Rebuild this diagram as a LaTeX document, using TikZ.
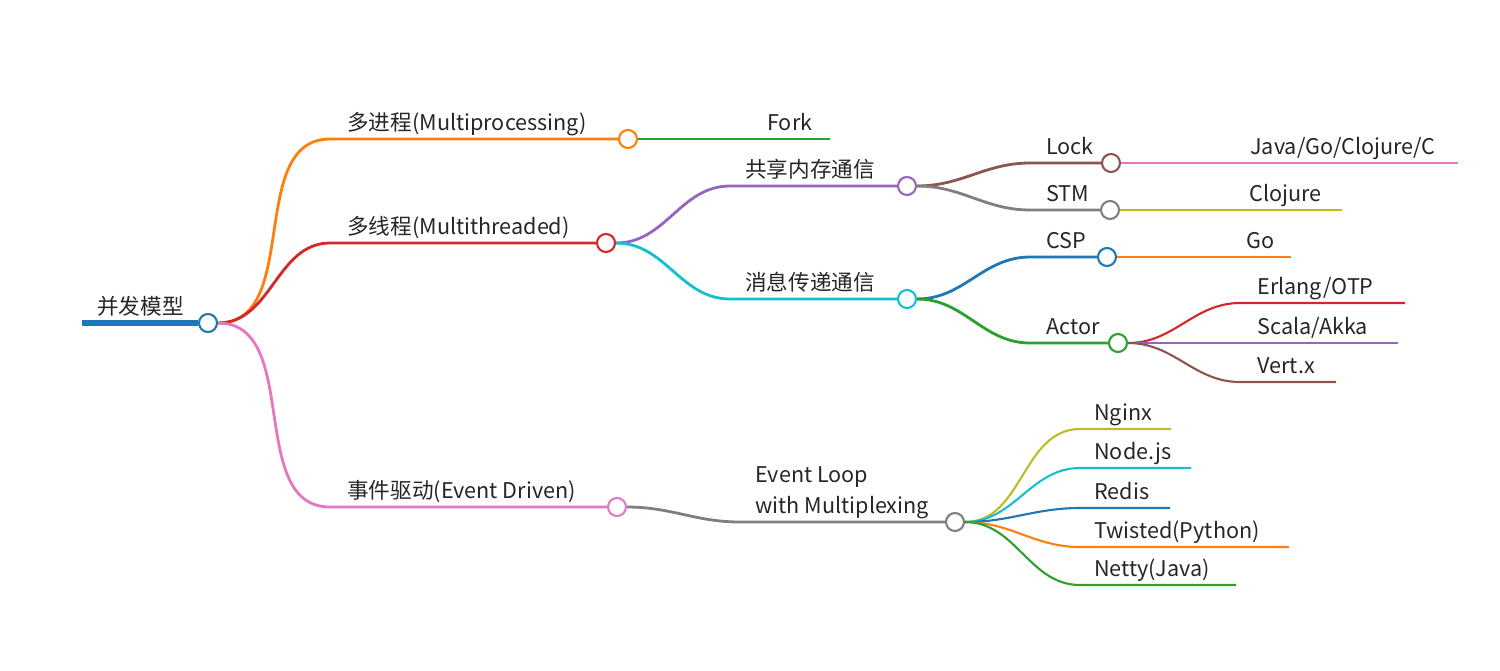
\documentclass[tikz,border=0pt]{standalone}
\usepackage{fontspec}
\setmainfont{Noto Sans CJK SC}
\usetikzlibrary{positioning}
\definecolor{tblue}{HTML}{1F77B4}
\definecolor{torange}{HTML}{FF7F0E}
\definecolor{tgreen}{HTML}{2CA02C}
\definecolor{tred}{HTML}{D62728}
\definecolor{tpurple}{HTML}{9467BD}
\definecolor{tbrown}{HTML}{8C564B}
\definecolor{tpink}{HTML}{E377C2}
\definecolor{tgray}{HTML}{7F7F7F}
\definecolor{tolive}{HTML}{BCBD22}
\definecolor{tcyan}{HTML}{17BECF}
\tikzset{
    hub/.style={circle, draw=#1, fill=white, line width=1.2pt, minimum size=0.36cm, inner sep=0pt},
    txt/.style={anchor=base west, inner sep=0pt, text=black!85, font=\fontsize{12.3}{17.5}\selectfont},
    trunk/.style={draw=#1, line width=3.4pt},
    branch/.style={draw=#1, line width=1.6pt},
    leaf/.style={draw=#1, line width=1.2pt},
    sbend/.style={out=0, in=180},
}
\begin{document}
\begin{tikzpicture}[x=0.02cm, y=-0.02cm]
    \useasboundingbox (0,0) rectangle (1500,670);

    % root
    \coordinate (rootstart) at (82,323);
    \node[hub=tblue] (root) at (208,323) {};
    \node[txt] (rootlbl) at (97,314) {并发模型};
    \draw[trunk=tblue] (rootstart) -- (root);

    % first level
    \coordinate (mpk) at (330,139);
    \coordinate (mtk) at (330,243);
    \coordinate (evk) at (330,507);
    \node[hub=torange] (mp) at (628,139) {};
    \node[hub=tred] (mt) at (606,243) {};
    \node[hub=tpink] (ev) at (617,507) {};
    \node[txt] (mplbl) at (347,130) {多进程(Multiprocessing)};
    \node[txt] (mtlbl) at (347,234) {多线程(Multithreaded)};
    \node[txt] (evlbl) at (347,498) {事件驱动(Event Driven)};
    \draw[branch=torange] (root) to[sbend] (mpk) -- (mp);
    \draw[branch=tred] (root) to[sbend] (mtk) -- (mt);
    \draw[branch=tpink] (root) to[sbend] (evk) -- (ev);

    % multiprocessing
    \coordinate (forkend) at (830,139);
    \node[txt] (forklbl) at (767,130) {Fork};
    \draw[leaf=tgreen] (mp) -- (forkend);

    % multithreaded
    \coordinate (shmk) at (730,186);
    \coordinate (msgk) at (730,299);
    \node[hub=tpurple] (shm) at (907,186) {};
    \node[hub=tcyan] (msg) at (907,299) {};
    \node[txt] (shmlbl) at (745,177) {共享内存通信};
    \node[txt] (msglbl) at (745,290) {消息传递通信};
    \draw[branch=tpurple] (mt) to[sbend] (shmk) -- (shm);
    \draw[branch=tcyan] (mt) to[sbend] (msgk) -- (msg);

    \coordinate (lockk) at (1030,163);
    \coordinate (stmk) at (1030,210);
    \coordinate (cspk) at (1030,257);
    \coordinate (actork) at (1030,343);
    \node[hub=tbrown] (lock) at (1111,163) {};
    \node[hub=tgray] (stm) at (1110,210) {};
    \node[hub=tblue] (csp) at (1107,257) {};
    \node[hub=tgreen] (actor) at (1118,343) {};
    \node[txt] (locklbl) at (1046,154) {Lock};
    \node[txt] (stmlbl) at (1046,201) {STM};
    \node[txt] (csplbl) at (1046,248) {CSP};
    \node[txt] (actorlbl) at (1046,334) {Actor};
    \draw[branch=tbrown] (shm) to[sbend] (lockk) -- (lock);
    \draw[branch=tgray] (shm) to[sbend] (stmk) -- (stm);
    \draw[branch=tblue] (msg) to[sbend] (cspk) -- (csp);
    \draw[branch=tgreen] (msg) to[sbend] (actork) -- (actor);

    \coordinate (javaend) at (1458,163);
    \coordinate (clojend) at (1342,210);
    \coordinate (goend) at (1291,257);
    \node[txt] (javalbl) at (1250,154) {Java/Go/Clojure/C};
    \node[txt] (clojlbl) at (1249,201) {Clojure};
    \node[txt] (golbl) at (1246,248) {Go};
    \draw[leaf=tpink] (lock) -- (javaend);
    \draw[leaf=tolive] (stm) -- (clojend);
    \draw[leaf=torange] (csp) -- (goend);

    \coordinate (erlk) at (1240,303);
    \coordinate (erlend) at (1405,303);
    \coordinate (scalaend) at (1398,343);
    \coordinate (vertk) at (1240,382);
    \coordinate (vertend) at (1336,382);
    \node[txt] (erllbl) at (1257,294) {Erlang/OTP};
    \node[txt] (scalalbl) at (1257,334) {Scala/Akka};
    \node[txt] (vertlbl) at (1257,373) {Vert.x};
    \draw[leaf=tred] (actor) to[sbend] (erlk) -- (erlend);
    \draw[leaf=tpurple] (actor) -- (scalaend);
    \draw[leaf=tbrown] (actor) to[sbend] (vertk) -- (vertend);

    % event driven
    \coordinate (loopk) at (740,522);
    \node[hub=tgray] (loop) at (955,522) {};
    \node[txt, align=left] (looplbl) at (755,513) {Event Loop\\with Multiplexing};
    \draw[branch=tgray] (ev) to[sbend] (loopk) -- (loop);

    \coordinate (nginxk) at (1080,429);
    \coordinate (nodek) at (1080,468);
    \coordinate (redisk) at (1080,508);
    \coordinate (twistk) at (1080,547);
    \coordinate (nettyk) at (1080,585);
    \coordinate (nginxend) at (1171,429);
    \coordinate (nodeend) at (1191,468);
    \coordinate (redisend) at (1170,508);
    \coordinate (twistend) at (1289,547);
    \coordinate (nettyend) at (1236,585);
    \node[txt] (nginxlbl) at (1094,420) {Nginx};
    \node[txt] (nodelbl) at (1094,459) {Node.js};
    \node[txt] (redislbl) at (1094,499) {Redis};
    \node[txt] (twistlbl) at (1094,538) {Twisted(Python)};
    \node[txt] (nettylbl) at (1094,576) {Netty(Java)};
    \draw[leaf=tolive] (loop) to[sbend] (nginxk) -- (nginxend);
    \draw[leaf=tcyan] (loop) to[sbend] (nodek) -- (nodeend);
    \draw[leaf=tblue] (loop) to[sbend] (redisk) -- (redisend);
    \draw[leaf=torange] (loop) to[sbend] (twistk) -- (twistend);
    \draw[leaf=tgreen] (loop) to[sbend] (nettyk) -- (nettyend);
\end{tikzpicture}
\end{document}
